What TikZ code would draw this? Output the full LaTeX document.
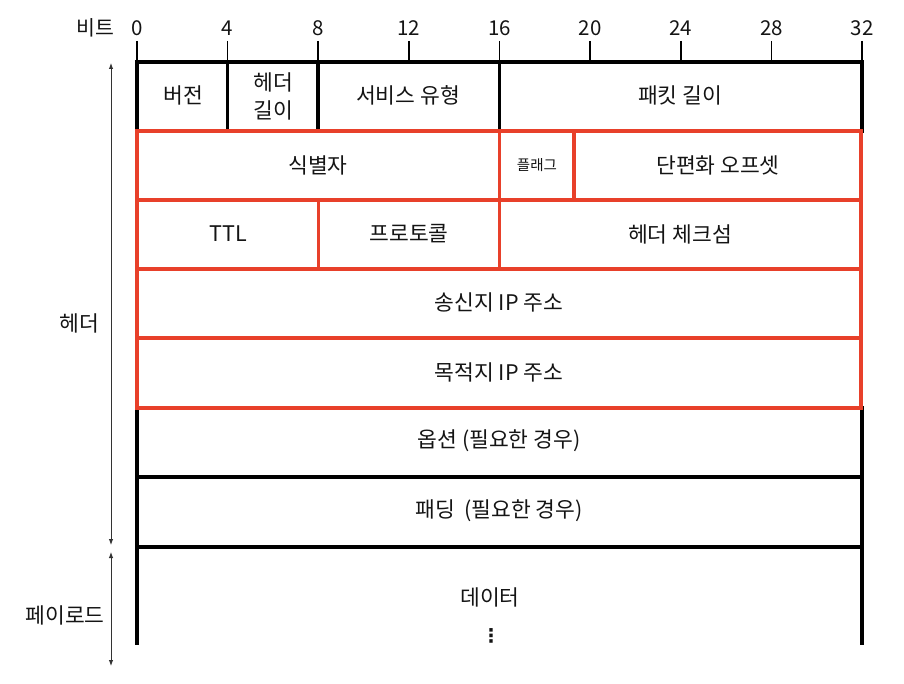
\documentclass[tikz,border=0pt]{standalone}
\usepackage{fontspec}
\newfontfamily\kr{Noto Sans CJK KR}
\newfontfamily\dv{DejaVu Sans}
\usetikzlibrary{arrows.meta}
\definecolor{hred}{HTML}{E8402A}
\definecolor{arrgray}{HTML}{333333}
\begin{document}
\begin{tikzpicture}[x=1pt,y=-1pt,
  every node/.style={font=\kr\fontsize{21.5}{24}\selectfont, text=black!92, inner sep=0pt, outer sep=0pt},
  blk/.style={draw=black, line width=3.6pt},
  redbox/.style={draw=hred, line width=3.4pt},
  fieldtext/.style={anchor=center},
  bitlbl/.style={font=\kr\fontsize{20.5}{22}\selectfont, anchor=center},
  tick/.style={draw=black, line width=1.6pt},
  dimarrow/.style={draw=arrgray, line width=0.9pt, {Latex[length=6pt,width=4.5pt]}-{Latex[length=6pt,width=4.5pt]}}
]
\useasboundingbox (0,0) rectangle (904,684);
\def\bx#1{137+#1*22.656}

% --- bit ruler ---
\node[bitlbl] (bitword) at (95,28) {비트};
\foreach \b in {0,4,8,12,16,20,24,28,32}{
  \node[bitlbl] (b\b) at ({\bx{\b}},28) {\b};
  \draw[tick] ({\bx{\b}},41) -- ({\bx{\b}},62);
}

% --- row 1 (black) ---
\draw[blk] (137,62) rectangle (862,131);
\draw[blk] ({\bx{4}},62) -- ({\bx{4}},131);
\draw[blk] ({\bx{8}},62) -- ({\bx{8}},131);
\draw[blk] ({\bx{16}},62) -- ({\bx{16}},131);
\node[fieldtext] (ver) at (183,95) {버전};
\node[fieldtext, align=center, font=\kr\fontsize{21.5}{28}\selectfont] (ihl) at (273,96) {헤더\\길이};
\node[fieldtext] (tos) at (408,95) {서비스 유형};
\node[fieldtext] (len) at (680,95) {패킷 길이};

% --- rows 6,7 (black) and payload ---
\draw[blk] (137,408) rectangle (862,477);
\draw[blk] (137,477) rectangle (862,547);
\draw[blk] (137,547) -- (137,645);
\draw[blk] (862,547) -- (862,645);
\node[fieldtext] (opt) at (499,441) {옵션 (필요한 경우)};
\node[fieldtext] (pad) at (499,511) {패딩 \ (필요한 경우)};
\node[fieldtext] (data) at (490,597) {데이터};
\node[fieldtext, font=\dv\bfseries\fontsize{19}{20}\selectfont] (dots) at (491,636) {⋮};

% --- red rows 2-5 ---
\draw[redbox] (137,131) rectangle (861,200);
\draw[redbox] ({\bx{16}},131) -- ({\bx{16}},200);
\draw[redbox] (574,131) -- (574,200);
\node[fieldtext] (ident) at (318,165) {식별자};
\node[fieldtext, font=\kr\fontsize{14.5}{16}\selectfont] (flags) at (537,165) {플래그};
\node[fieldtext] (frag) at (718,165) {단편화 오프셋};

\draw[redbox] (137,200) rectangle (861,269);
\draw[redbox] ({\bx{8}},200) -- ({\bx{8}},269);
\draw[redbox] ({\bx{16}},200) -- ({\bx{16}},269);
\node[fieldtext] (ttl) at (228,234) {TTL};
\node[fieldtext] (proto) at (409,234) {프로토콜};
\node[fieldtext] (csum) at (680,234) {헤더 체크섬};

\draw[redbox] (137,269) rectangle (861,338);
\node[fieldtext] (src) at (499,302) {송신지 IP 주소};
\draw[redbox] (137,338) rectangle (861,408);
\node[fieldtext] (dst) at (499,372) {목적지 IP 주소};

% --- side dimension arrows ---
\coordinate (htop) at (111,63);
\coordinate (hbot) at (111,545);
\coordinate (ptop) at (111,552);
\coordinate (pbot) at (111,666);
\draw[dimarrow] (htop) -- (hbot);
\draw[dimarrow] (ptop) -- (pbot);
\node[anchor=center] (hdrlbl) at (79,323) {헤더};
\node[anchor=center] (plbl) at (65,615) {페이로드};
\end{tikzpicture}
\end{document}
